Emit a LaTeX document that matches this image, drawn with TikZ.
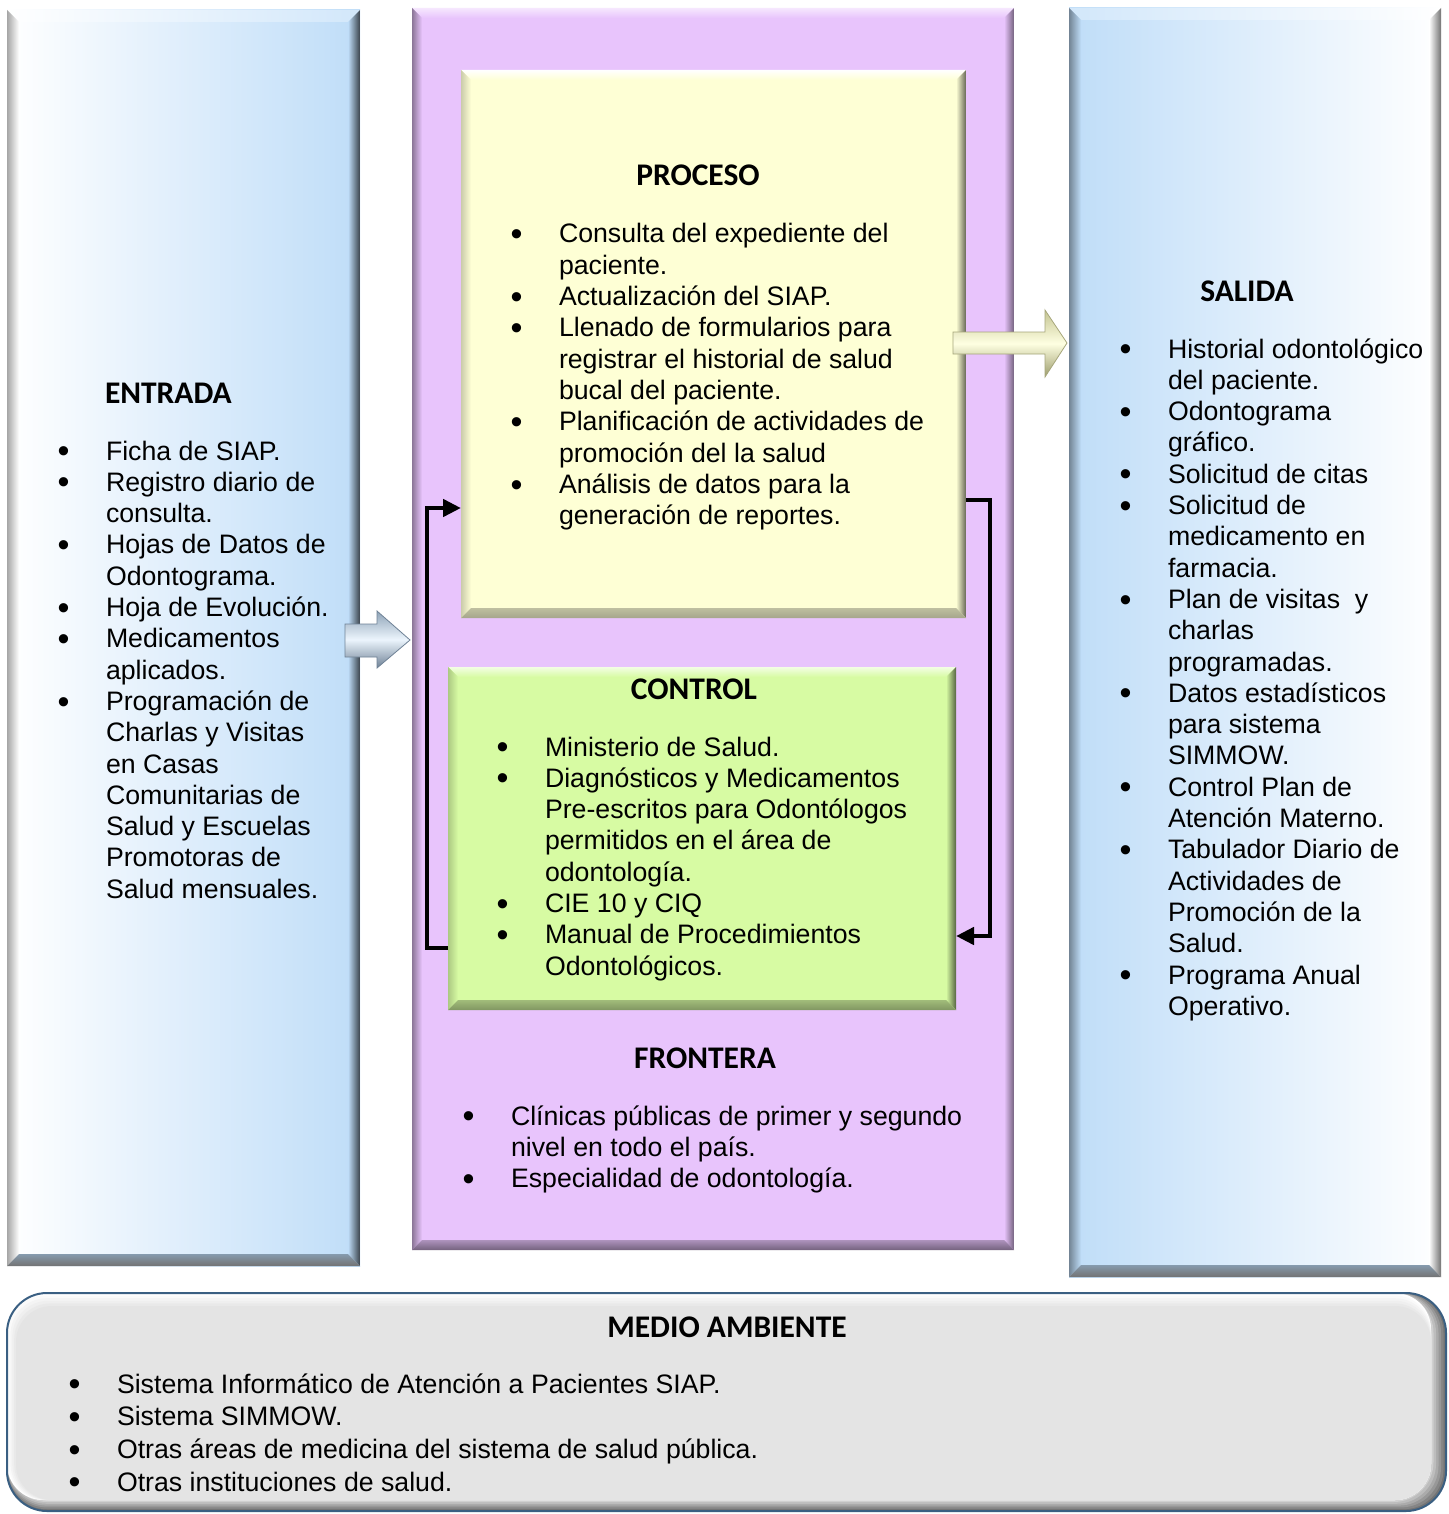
\documentclass[tikz,border=0pt]{standalone}
\usepackage{fontspec}
\setmainfont{Liberation Sans}
\newfontfamily\headfont{Carlito}
\usetikzlibrary{calc,fit,arrows.meta}

\definecolor{skyA}{HTML}{BFDDF8}
\definecolor{lilac}{HTML}{E8C4FC}
\definecolor{cream}{HTML}{FEFFD5}
\definecolor{lime}{HTML}{D7FBA3}
\definecolor{mist}{HTML}{E4E4E4}
\definecolor{navyline}{HTML}{3A5F82}
\definecolor{steelA}{HTML}{8EA3B7}
\definecolor{steelB}{HTML}{6F8296}
\definecolor{khakiA}{HTML}{C4C492}
\definecolor{khakiB}{HTML}{9C9C6C}

% bevelled frame drawn on the four sides of a rectangular node
% #1 node, #2 bevel width, #3 top, #4 left, #5 right, #6 bottom
\newcommand\bevelframe[6]{%
  \path[#3] (#1.north west) -- (#1.north east) -- ($(#1.north east)+(-#2,#2)$) -- ($(#1.north west)+(#2,#2)$) -- cycle;
  \path[#4] (#1.north west) -- ($(#1.north west)+(#2,#2)$) -- ($(#1.south west)+(#2,-#2)$) -- (#1.south west) -- cycle;
  \path[#5] (#1.north east) -- ($(#1.north east)+(-#2,#2)$) -- ($(#1.south east)+(-#2,-#2)$) -- (#1.south east) -- cycle;
  \path[#6] (#1.south west) -- ($(#1.south west)+(#2,-#2)$) -- ($(#1.south east)+(-#2,-#2)$) -- (#1.south east) -- cycle;
}

% list bullet hanging to the left of the item text
\newcommand\bul{\llap{\raisebox{-2.6pt}{\fontsize{34}{34}\selectfont\textbullet}\hspace{36.5pt}}}

\tikzset{
  boxnode/.style={inner sep=0pt, outer sep=0pt},
  head/.style={anchor=base, inner sep=0pt, outer sep=0pt, font=\headfont\bfseries\fontsize{31.5}{36}\selectfont},
  txt/.style={anchor=base west, inner sep=0pt, outer sep=0pt, font=\fontsize{26.7}{31.3}\selectfont},
  conn/.style={line width=4.5pt, -{Triangle[length=18pt,width=17pt]}},
}

\begin{document}
\begin{tikzpicture}[x=1pt,y=-1pt]
\useasboundingbox (0,0) rectangle (1448,1514);
\fill[white] (0,0) rectangle (1448,1514);

% ---- boxes ----
\node[boxnode, fit={(7,10)(360,1266)}, left color=white, right color=skyA] (entrada) {};
\bevelframe{entrada}{12}{left color=white, right color=skyA!70}{left color=black!35, right color=white}{left color=skyA, right color=black!70!skyA}{top color=black!30!skyA, bottom color=black!55}

\node[boxnode, fit={(1069,8)(1441,1277)}, left color=skyA, right color=white] (salida) {};
\bevelframe{salida}{12}{left color=skyA!70, right color=white}{left color=black!40!skyA, right color=skyA}{left color=white, right color=black!55}{top color=black!30!skyA, bottom color=black!55}

\node[boxnode, fit={(412,8)(1014,1250)}, fill=lilac] (frontera) {};
\bevelframe{frontera}{10}{top color=white!60!lilac, bottom color=lilac}{left color=lilac!60!black, right color=lilac}{left color=lilac, right color=lilac!50!black}{top color=lilac!75!black, bottom color=lilac!50!black}

\node[boxnode, fit={(461,70)(966,618)}, fill=cream] (proceso) {};
\bevelframe{proceso}{10}{top color=white, bottom color=cream}{left color=cream!80!black, right color=cream}{left color=cream, right color=cream!40!black}{top color=cream!75!black, bottom color=cream!65!black}

\node[boxnode, fit={(448,667)(956,1010)}, fill=lime] (control) {};
\bevelframe{control}{10}{top color=white!70!lime, bottom color=lime}{left color=lime!80!black, right color=lime}{left color=lime, right color=lime!40!black}{top color=lime!75!black, bottom color=lime!60!black}

% ---- environment panel ----
\node[boxnode, fit={(7,1293)(1446,1511)}] (ambiente) {};
\begin{scope}
  \clip[rounded corners=40pt] (ambiente.north west) rectangle (ambiente.south east);
  % dark shade along the right and bottom edges
  \foreach \k in {0,...,6}{
    \pgfmathsetmacro\shadeval{55-\k*44/6}
    \fill[black!\shadeval, rounded corners=40pt] (ambiente.north west) rectangle ($(ambiente.south east)+(-\k*2.5,-\k*1.8)$);
  }
  % light band along the top and left edges
  \foreach \k in {0,...,5}{
    \pgfmathsetmacro\lightval{\k*20}
    \fill[mist!\lightval!white, rounded corners=36pt] ($(ambiente.north west)+(\k*1.8,\k*2.6)$) rectangle ($(ambiente.south east)+(-15,-11)$);
  }
\end{scope}
\draw[navyline, line width=2pt, rounded corners=40pt] (ambiente.north west) rectangle (ambiente.south east);

% ---- block arrows ----
\path[draw=steelB, line width=0.8pt, top color=steelA, bottom color=steelB, middle color=white!70!skyA]
  (345,624) -- (377,624) -- (377,611) -- (410,640) -- (377,668) -- (377,657) -- (345,657) -- cycle;
\path[draw=khakiB!90, line width=0.8pt, top color=khakiA, bottom color=khakiB, middle color=cream!70!white]
  (953,332) -- (1045,332) -- (1045,310) -- (1067,343) -- (1045,377) -- (1045,354) -- (953,354) -- cycle;

% ---- feedback connectors ----
\draw[conn] ($(control.south west)+(0,-62)$) -- ++(-21,0) |- ($(proceso.north west)+(0,438)$);
\draw[conn] ($(proceso.north east)+(0,430)$) -- ++(24,0) |- ($(control.north east)+(0,269)$);

% ---- texts ----
\node[head, anchor=base west] (tEntrada) at (105,403) {ENTRADA};
\node[txt] (lEntrada) at (106,460) {\begin{tabular}[t]{@{}l@{}}
\bul Ficha de SIAP.\\
\bul Registro diario de\\
consulta.\\
\bul Hojas de Datos de\\
Odontograma.\\
\bul Hoja de Evolución.\\
\bul Medicamentos\\
aplicados.\\
\bul Programación de\\
Charlas y Visitas\\
en Casas\\
Comunitarias de\\
Salud y Escuelas\\
Promotoras de\\
Salud mensuales.
\end{tabular}};

\node[head] (tProceso) at (698,186) {PROCESO};
\node[txt] (lProceso) at (559,243) {\begin{tabular}[t]{@{}l@{}}
\bul Consulta del expediente del\\
paciente.\\
\bul Actualización del SIAP.\\
\bul Llenado de formularios para\\
registrar el historial de salud\\
bucal del paciente.\\
\bul Planificación de actividades de\\
promoción del la salud\\
\bul Análisis de datos para la\\
generación de reportes.
\end{tabular}};

\node[head] (tControl) at (694,699) {CONTROL};
\node[txt] (lControl) at (545,756) {\begin{tabular}[t]{@{}l@{}}
\bul Ministerio de Salud.\\
\bul Diagnósticos y Medicamentos\\
Pre-escritos para Odontólogos\\
permitidos en el área de\\
odontología.\\
\bul CIE 10 y CIQ\\
\bul Manual de Procedimientos\\
Odontológicos.
\end{tabular}};

\node[head] (tFrontera) at (705,1068) {FRONTERA};
\node[txt] (lFrontera) at (511,1125) {\begin{tabular}[t]{@{}l@{}}
\bul Clínicas públicas de primer y segundo\\
nivel en todo el país.\\
\bul Especialidad de odontología.
\end{tabular}};

\node[head] (tSalida) at (1247,301) {SALIDA};
\node[txt] (lSalida) at (1168,358) {\begin{tabular}[t]{@{}l@{}}
\bul Historial odontológico\\
del paciente.\\
\bul Odontograma\\
gráfico.\\
\bul Solicitud de citas\\
\bul Solicitud de\\
medicamento en\\
farmacia.\\
\bul Plan de visitas \ y\\
charlas\\
programadas.\\
\bul Datos estadísticos\\
para sistema\\
SIMMOW.\\
\bul Control Plan de\\
Atención Materno.\\
\bul Tabulador Diario de\\
Actividades de\\
Promoción de la\\
Salud.\\
\bul Programa Anual\\
Operativo.
\end{tabular}};

\node[head] (tAmbiente) at (727,1337) {MEDIO AMBIENTE};
\node[txt, font=\fontsize{26.7}{32.7}\selectfont] (lAmbiente) at (117,1393) {\begin{tabular}[t]{@{}l@{}}
\bul Sistema Informático de Atención a Pacientes SIAP.\\
\bul Sistema SIMMOW.\\
\bul Otras áreas de medicina del sistema de salud pública.\\
\bul Otras instituciones de salud.
\end{tabular}};
\end{tikzpicture}
\end{document}
